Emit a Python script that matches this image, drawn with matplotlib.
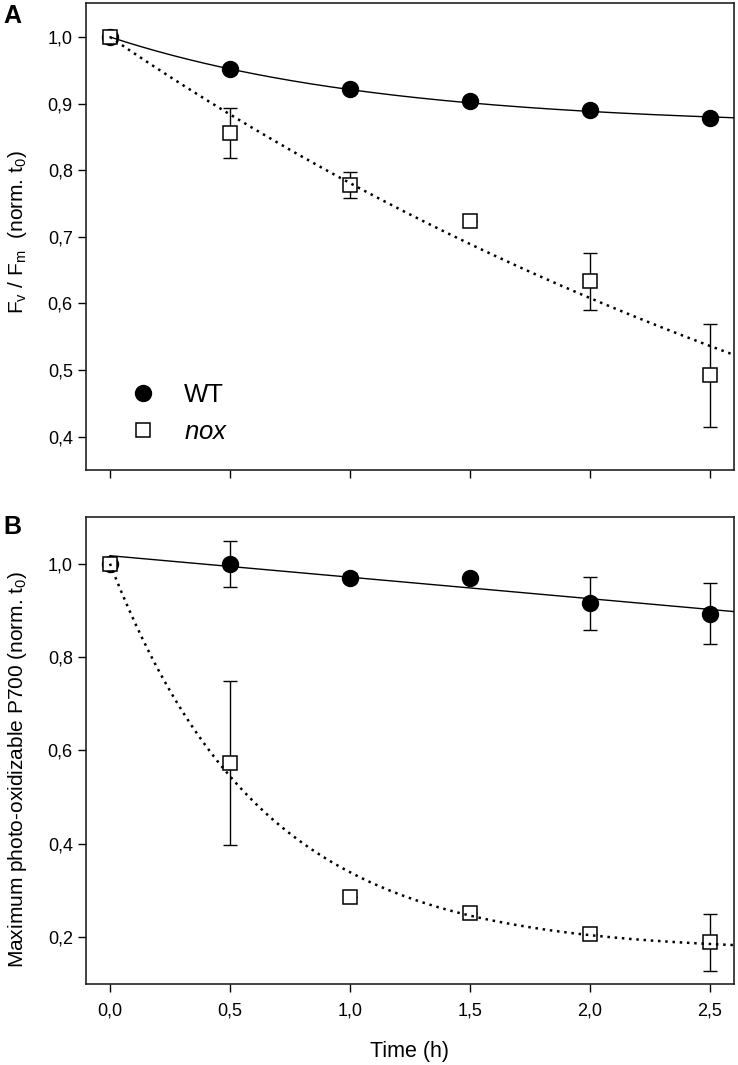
import numpy as np
import matplotlib
matplotlib.use("Agg")
import matplotlib.pyplot as plt

plt.rcParams['font.family'] = ['Liberation Sans', 'DejaVu Sans']
plt.rcParams['mathtext.fontset'] = 'custom'
plt.rcParams['mathtext.rm'] = 'Liberation Sans'
plt.rcParams['mathtext.it'] = 'Liberation Sans:italic'

time = [0.0, 0.5, 1.0, 1.5, 2.0, 2.5]

# panel A: Fv/Fm
a_wt = [1.0, 0.952, 0.922, 0.904, 0.890, 0.879]
a_wt_err = [0, 0, 0, 0, 0, 0]
a_nox = [1.0, 0.856, 0.778, 0.723, 0.633, 0.492]
a_nox_err = [0, 0.037, 0.020, 0, 0.043, 0.077]

# panel B: max photo-oxidizable P700
b_wt = [1.0, 1.0, 0.970, 0.969, 0.915, 0.893]
b_wt_err = [0, 0.049, 0.010, 0, 0.057, 0.065]
b_nox = [1.0, 0.573, 0.286, 0.251, 0.206, 0.189]
b_nox_err = [0, 0.175, 0, 0, 0, 0.061]

# fitted curves, y = y0 + a*exp(-b*t)
a_wt_fit = (0.865, 0.135, 0.88)
a_nox_fit = (-0.028, 1.028, 0.24)
b_nox_fit = (0.17, 0.83, 1.59)
# linear fit, y = c0 + c1*t
b_wt_fit = (1.017, -0.046)

xticks = [0.0, 0.5, 1.0, 1.5, 2.0, 2.5]
a_yticks = [0.4, 0.5, 0.6, 0.7, 0.8, 0.9, 1.0]
b_yticks = [0.2, 0.4, 0.6, 0.8, 1.0]


def fmt(v):
    return f"{v:.1f}".replace(".", ",")


def expfit(p, t):
    return p[0] + p[1] * np.exp(-p[2] * t)


fig = plt.figure(figsize=(7.38, 10.65), dpi=100)
axA = fig.add_axes([0.1165, 0.5587, 0.878, 0.4385])
axB = fig.add_axes([0.1165, 0.0761, 0.878, 0.4385])

t = np.linspace(0, 2.6, 200)
dots = (0, (1, 1.9))

for ax, wt, wte, nox, noxe in [(axA, a_wt, a_wt_err, a_nox, a_nox_err),
                               (axB, b_wt, b_wt_err, b_nox, b_nox_err)]:
    ax.errorbar(time, wt, yerr=wte, fmt='none', ecolor='black', elinewidth=1,
                capsize=5, capthick=1, zorder=2)
    ax.errorbar(time, nox, yerr=noxe, fmt='none', ecolor='black', elinewidth=1,
                capsize=5, capthick=1, zorder=2)
    ax.plot(time, wt, 'o', color='black', markersize=11.5, zorder=3, label='WT')
    ax.plot(time, nox, 's', mfc='white', mec='black', mew=1.1, markersize=10,
            zorder=3, label='$\\it{nox}$')

axA.plot(t, expfit(a_wt_fit, t), '-', color='black', lw=1, zorder=4)
axA.plot(t, expfit(a_nox_fit, t), color='black', lw=1.8, linestyle=dots, zorder=4)
axB.plot(t, b_wt_fit[0] + b_wt_fit[1] * t, '-', color='black', lw=1, zorder=4)
axB.plot(t, expfit(b_nox_fit, t), color='black', lw=1.8, linestyle=dots, zorder=4)

for ax in (axA, axB):
    ax.set_xlim(-0.1, 2.6)
    ax.set_xticks(xticks)
    ax.tick_params(direction='out', length=6, width=1, labelsize=13, colors='black')
    ax.tick_params(axis='x', pad=7)
    for s in ax.spines.values():
        s.set_linewidth(1.2)
        s.set_color('#222222')

axA.set_ylim(0.35, 1.051)
axA.set_yticks(a_yticks)
axA.set_yticklabels([fmt(v) for v in a_yticks])
axA.set_xticklabels([])
axA.set_ylabel('F$_\\mathrm{v}$ / F$_\\mathrm{m}$  (norm. t$_0$)', fontsize=15)
axA.yaxis.set_label_coords(-0.088, 0.51)

axB.set_ylim(0.1, 1.1)
axB.set_yticks(b_yticks)
axB.set_yticklabels([fmt(v) for v in b_yticks])
axB.set_xticklabels([fmt(v) for v in xticks])
axB.set_ylabel('Maximum photo-oxidizable P700 (norm. t$_0$)', fontsize=15)
axB.yaxis.set_label_coords(-0.088, 0.46)
axB.set_xlabel('Time (h)', fontsize=15.5, labelpad=16)

axA.legend(loc='lower left', bbox_to_anchor=(0.017, 0.012), frameon=False,
           fontsize=18.5, handletextpad=0.6, labelspacing=0.5, borderpad=0.3)

fig.text(0.005, 0.9967, 'A', fontsize=18, fontweight='bold', va='top')
fig.text(0.005, 0.5169, 'B', fontsize=18, fontweight='bold', va='top')

fig.savefig('out.png', dpi=100)
